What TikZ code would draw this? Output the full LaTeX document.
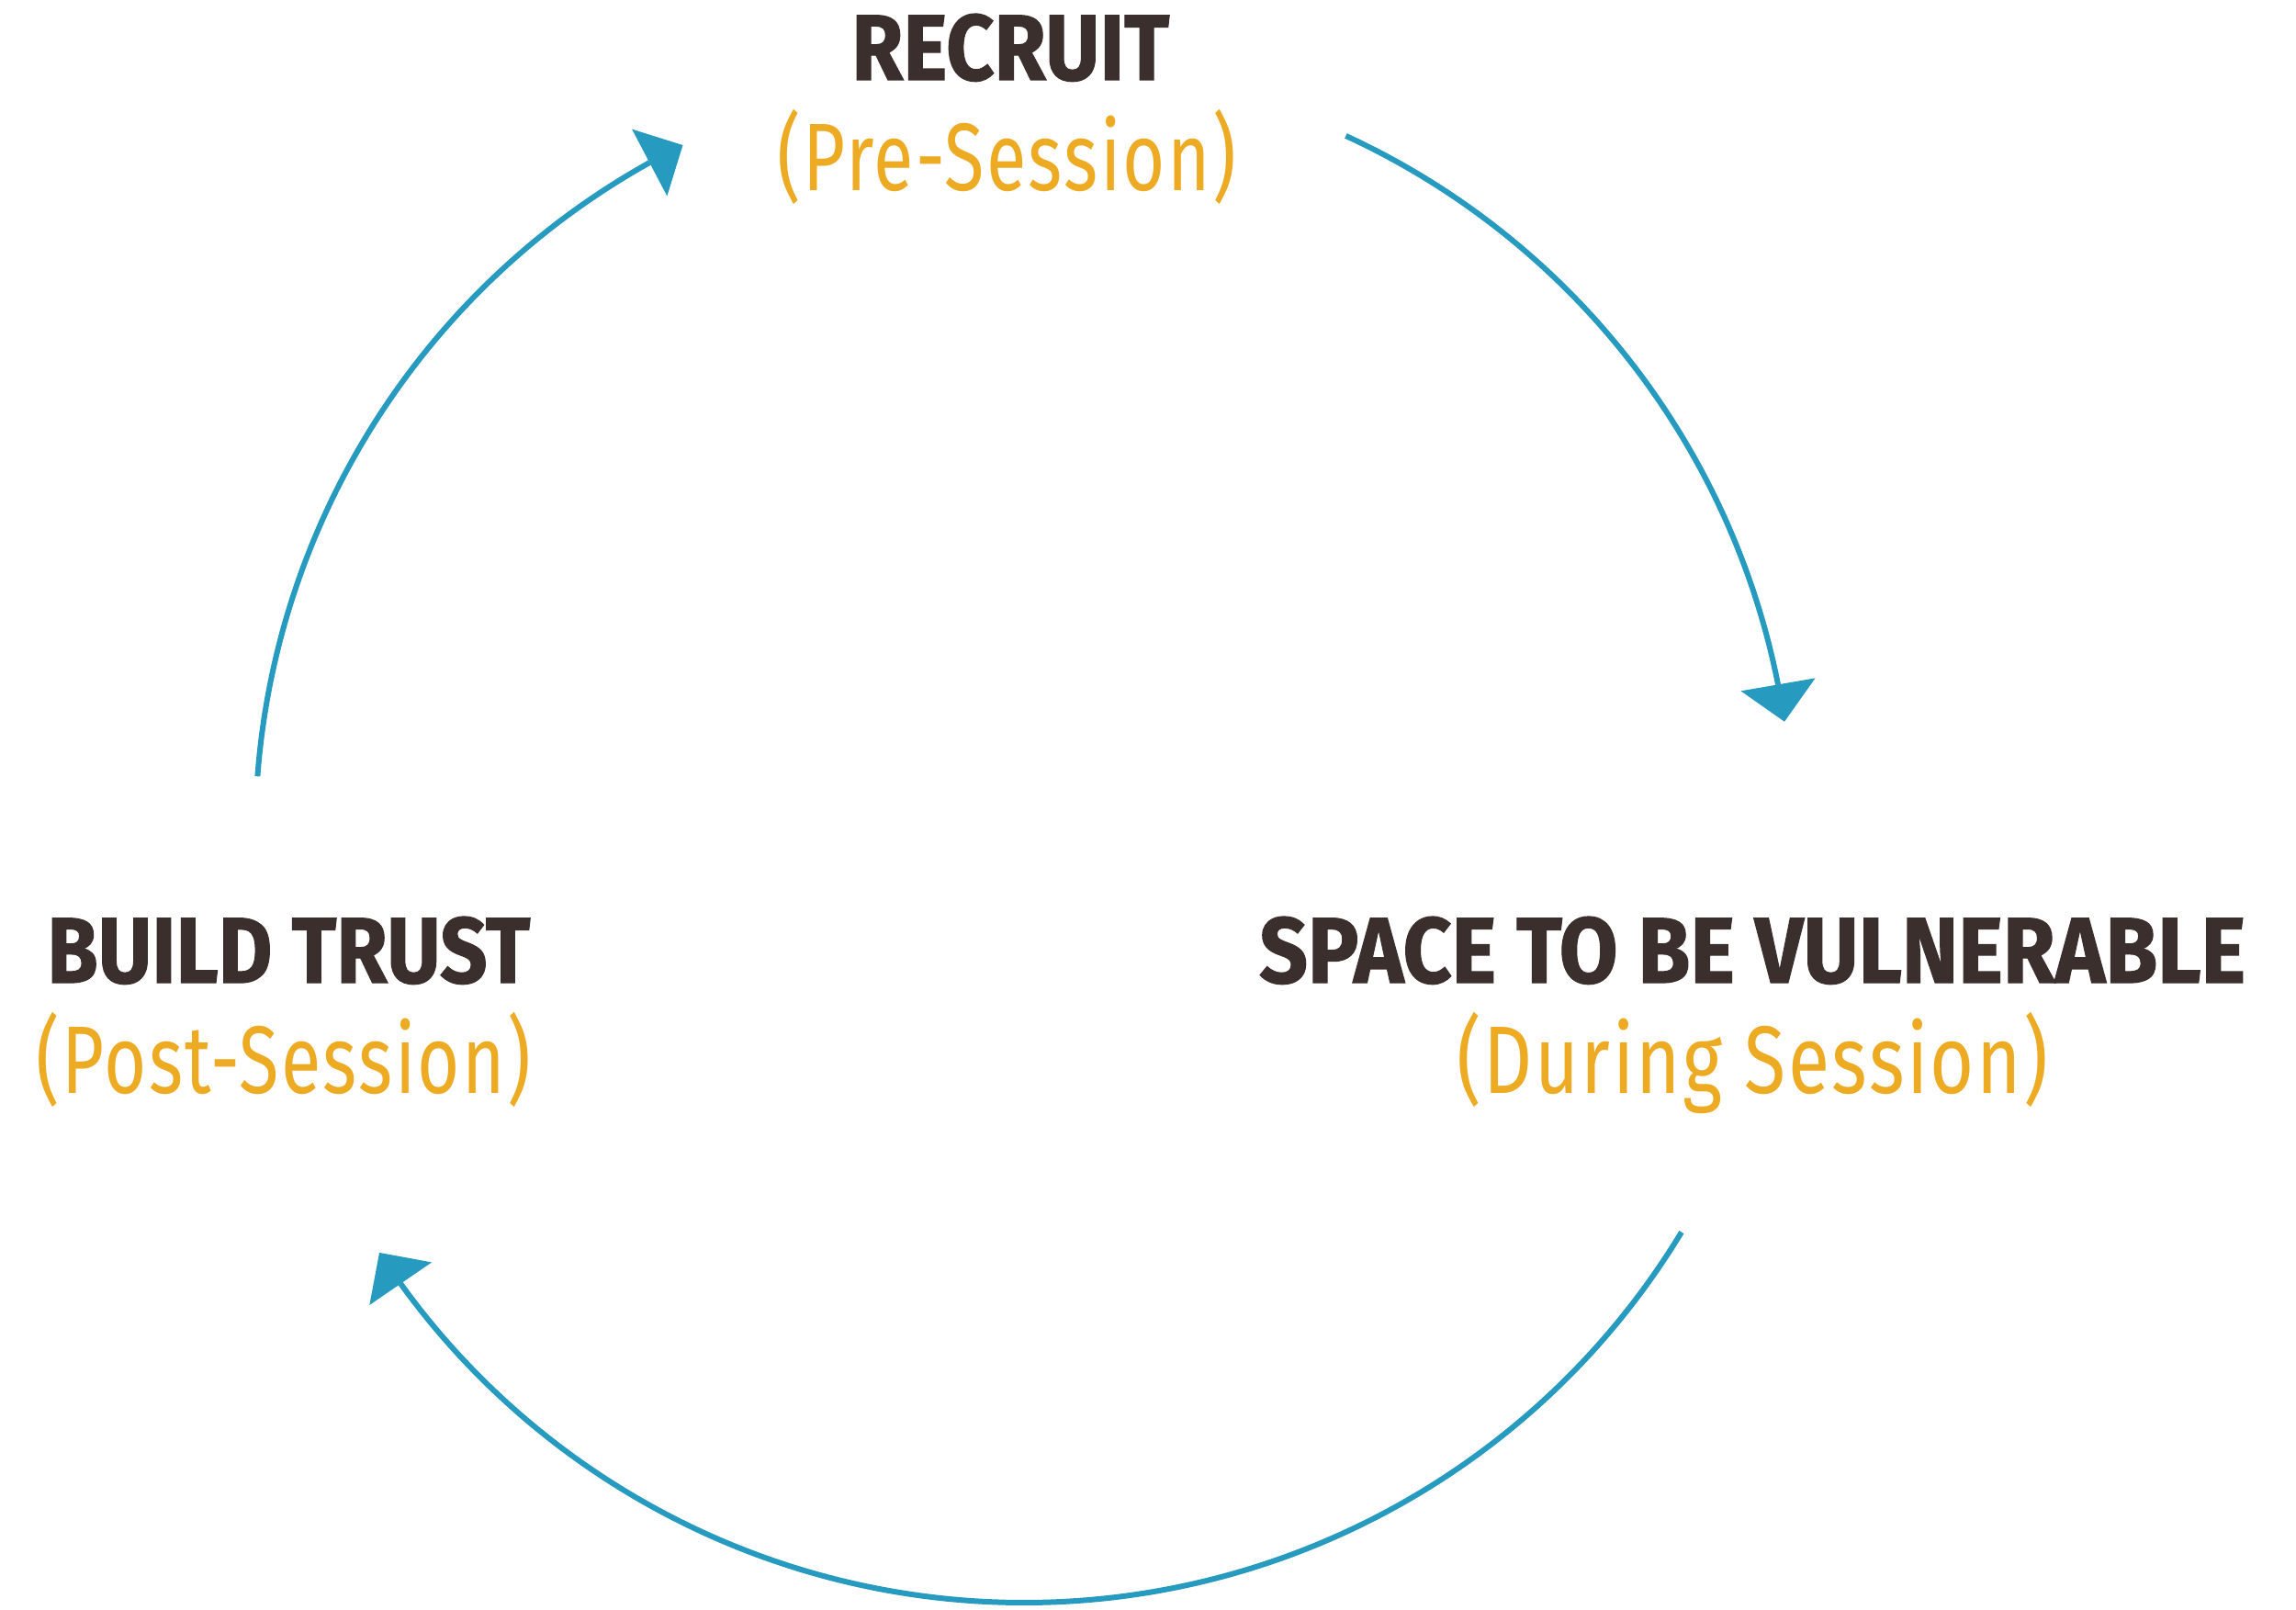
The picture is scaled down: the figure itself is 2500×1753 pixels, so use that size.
\documentclass[tikz,border=0pt]{standalone}
\usepackage{fontspec}
\usepackage{graphicx}
\usetikzlibrary{arrows.meta}
\setmainfont{Fira Sans}
\newfontfamily\headfont{Fira Sans}[BoldFeatures={FakeBold=1.2}]
\newfontfamily\subfont{Fira Sans}[LetterSpace=3]
\definecolor{headc}{HTML}{3A2F2C}
\definecolor{subc}{HTML}{ECAB22}
\definecolor{flowc}{HTML}{279BBF}
\tikzset{
  head/.style={inner sep=0pt, anchor=base west, text=headc, font=\headfont\bfseries\fontsize{104}{110}\selectfont},
  sub/.style={inner sep=0pt, anchor=base west, text=subc, font=\subfont\fontsize{104.5}{110}\selectfont},
  flowline/.style={draw=flowc, line width=6pt},
  flowtip/.style={draw=flowc, line width=6pt, -{Triangle[length=41pt,width=81pt]}},
}
\begin{document}
\begin{tikzpicture}[x=1pt,y=-1pt]
\useasboundingbox (0,0) rectangle (2500,1753);
% labels
\node[head] (recruit) at (927,87) {\resizebox{346pt}{72pt}{RECRUIT}};
\node[sub] (pre) at (846,207) {\resizebox{500pt}{\height}{(Pre-Session)}};
\node[head] (build) at (51,1070) {\resizebox{526pt}{72pt}{BUILD TRUST}};
\node[sub] (post) at (39,1190) {\resizebox{539pt}{\height}{(Post-Session)}};
\node[head] (space) at (1371,1070) {\resizebox{1074pt}{72pt}{SPACE TO BE VULNERABLE}};
\node[sub] (during) at (1586,1190) {\resizebox{644pt}{\height}{(During Session)}};
% cycle circle
\coordinate (c) at (1115,908);
\path (c) ++(184.3:837) coordinate (a1);
\path (c) ++(243.65:837) coordinate (t1);
\path (c) ++(294.75:837) coordinate (a2);
\path (c) ++(351.6:837) coordinate (t2);
\path (c) ++(31.2:837) coordinate (a3);
\path (c) ++(147.0:837) coordinate (t3);
\draw[flowline] (a1) arc[start angle=184.3, end angle=240.85, radius=837] coordinate (b1);
\draw[flowtip] (b1) -- (t1);
\draw[flowline] (a2) arc[start angle=294.75, end angle=348.8, radius=837] coordinate (b2);
\draw[flowtip] (b2) -- (t2);
\draw[flowline] (a3) arc[start angle=31.2, end angle=144.2, radius=837] coordinate (b3);
\draw[flowtip] (b3) -- (t3);
\end{tikzpicture}
\end{document}
